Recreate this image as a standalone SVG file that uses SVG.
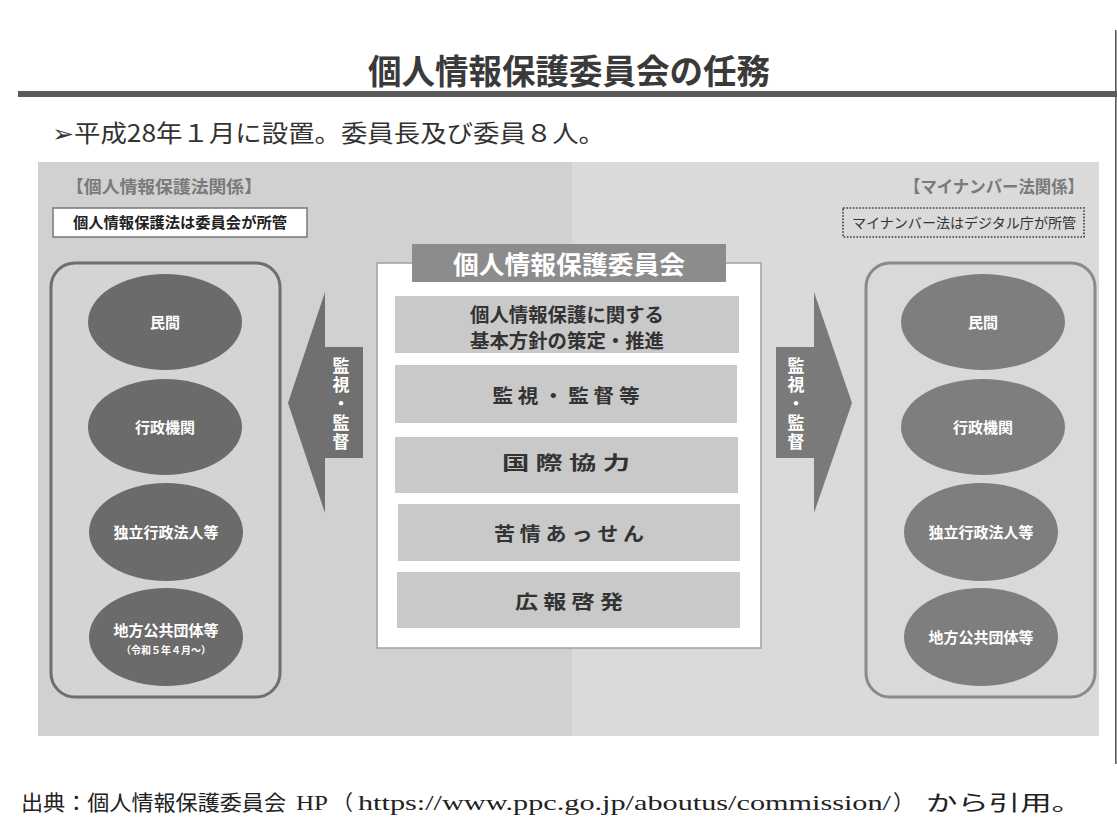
<svg xmlns="http://www.w3.org/2000/svg" width="1117" height="830" viewBox="0 0 1117 830">
<style>
.jp{font-family:"Noto Sans CJK JP","Noto Sans",sans-serif;}
.b{font-weight:bold;}
.ell-l{fill:#6b6b6b;}
.ell-r{fill:#7e7e7e;}
.et{fill:#ffffff;font-size:15px;font-weight:bold;text-anchor:middle;}
.box{fill:#c9c9c9;}
.bt{fill:#333333;font-size:19px;font-weight:bold;text-anchor:middle;}
.at{fill:#ffffff;font-size:17px;font-weight:bold;text-anchor:middle;writing-mode:vertical-rl;letter-spacing:2px;}
</style>
<rect width="1117" height="830" fill="#ffffff"/>
<g id="header">
<text class="jp b" x="569" y="84" font-size="34" fill="#3a3a3a" text-anchor="middle" textLength="402" lengthAdjust="spacingAndGlyphs">個人情報保護委員会の任務</text>
<rect x="18" y="91" width="1099" height="6" fill="#5a5a5a"/>
<rect x="1115" y="30" width="1.6" height="734" fill="#5a5a5a"/>
<text class="jp" x="52" y="142" font-size="24" fill="#333333" textLength="553" lengthAdjust="spacingAndGlyphs">➢平成28年１月に設置。委員長及び委員８人。</text>
</g>
<g id="panel">
<rect x="38" y="162" width="534" height="574" fill="#d1d1d1"/>
<rect x="572" y="162" width="527" height="574" fill="#d9dad9"/>
</g>
<g id="left-section">
<text class="jp b" x="66" y="193" font-size="17" fill="#7a7a7a" textLength="196" lengthAdjust="spacingAndGlyphs">【個人情報保護法関係】</text>
<rect x="53" y="208" width="254" height="29" fill="#ffffff" stroke="#777777" stroke-width="1.5"/>
<text class="jp b" x="180" y="228" font-size="15" fill="#222222" text-anchor="middle" textLength="214" lengthAdjust="spacingAndGlyphs">個人情報保護法は委員会が所管</text>
<rect x="51" y="263" width="229" height="434" rx="24" fill="#d4d4d4" stroke="#6e6e6e" stroke-width="3"/>
</g>
<g id="left-minkan"><ellipse class="ell-l" cx="165" cy="322" rx="77" ry="48"/><text class="jp et" x="165" y="328">民間</text></g>
<g id="left-gyosei"><ellipse class="ell-l" cx="165" cy="427" rx="77" ry="48"/><text class="jp et" x="165" y="433">行政機関</text></g>
<g id="left-dokuritsu"><ellipse class="ell-l" cx="166" cy="532" rx="77" ry="49"/><text class="jp et" x="166" y="538">独立行政法人等</text></g>
<g id="left-chiho"><ellipse class="ell-l" cx="166" cy="637" rx="77" ry="49"/><text class="jp et" x="166" y="636">地方公共団体等</text><text class="jp" x="166" y="654" font-size="10" font-weight="bold" fill="#ffffff" text-anchor="middle">（令和５年４月～）</text></g>
<g id="right-section">
<text class="jp b" x="1084" y="193" font-size="17" fill="#7a7a7a" text-anchor="end" textLength="180" lengthAdjust="spacingAndGlyphs">【マイナンバー法関係】</text>
<rect x="843" y="208" width="241" height="29" fill="none" stroke="#3a3a3a" stroke-width="1.6" stroke-dasharray="1.6 1.6"/>
<text class="jp" x="964" y="228" font-size="14" fill="#333333" text-anchor="middle" textLength="224" lengthAdjust="spacingAndGlyphs">マイナンバー法はデジタル庁が所管</text>
<rect x="866" y="263" width="229" height="434" rx="24" fill="#d9d9d9" stroke="#8a8a8a" stroke-width="3"/>
</g>
<g id="right-minkan"><ellipse class="ell-r" cx="983" cy="322" rx="82" ry="48"/><text class="jp et" x="983" y="328">民間</text></g>
<g id="right-gyosei"><ellipse class="ell-r" cx="983" cy="427" rx="82" ry="48"/><text class="jp et" x="983" y="433">行政機関</text></g>
<g id="right-dokuritsu"><ellipse class="ell-r" cx="981" cy="532" rx="77" ry="49"/><text class="jp et" x="981" y="538">独立行政法人等</text></g>
<g id="right-chiho"><ellipse class="ell-r" cx="981" cy="637" rx="77" ry="49"/><text class="jp et" x="981" y="643">地方公共団体等</text></g>
<g id="connectors">
<g id="arrow-left">
<polygon points="363,347 325,347 325,292 288,403 325,513 325,458 363,458" fill="#707070"/>
<text class="jp at" x="341" y="405">監視・監督</text>
</g>
<g id="arrow-right">
<polygon points="776,347 814,347 814,292 852,403 814,513 814,458 776,458" fill="#7a7a7a"/>
<text class="jp at" x="796" y="405">監視・監督</text>
</g>
</g>
<g id="commission">
<rect x="377" y="263" width="384" height="385" fill="#ffffff" stroke="#a0a0a0" stroke-width="1.5"/>
<rect x="412" y="244" width="314" height="38" fill="#8c8c8c"/>
<text class="jp b" x="569" y="274" font-size="25" fill="#ffffff" text-anchor="middle" textLength="232" lengthAdjust="spacingAndGlyphs">個人情報保護委員会</text>
</g>
<g id="task-policy"><rect class="box" x="395" y="296" width="344" height="57"/><text class="jp bt" x="567" y="322" textLength="194" lengthAdjust="spacingAndGlyphs">個人情報保護に関する</text><text class="jp bt" x="567" y="348" textLength="194" lengthAdjust="spacingAndGlyphs">基本方針の策定・推進</text></g>
<g id="task-supervision"><rect class="box" x="395" y="365" width="342" height="58"/><text class="jp bt" x="566" y="403" textLength="147" lengthAdjust="spacingAndGlyphs">監 視 ・ 監 督 等</text></g>
<g id="task-international"><rect class="box" x="395" y="437" width="343" height="56"/><text class="jp bt" x="566" y="470" textLength="128" lengthAdjust="spacingAndGlyphs">国 際 協 力</text></g>
<g id="task-complaint"><rect class="box" x="398" y="504" width="342" height="57"/><text class="jp bt" x="569" y="541" textLength="150" lengthAdjust="spacingAndGlyphs">苦 情 あ っ せ ん</text></g>
<g id="task-publicity"><rect class="box" x="397" y="572" width="343" height="56"/><text class="jp bt" x="569" y="609" textLength="108" lengthAdjust="spacingAndGlyphs">広 報 啓 発</text></g>
<g id="footer">
<text font-family="'Liberation Serif','Noto Sans CJK JP',serif" font-size="21" fill="#222222" y="810"><tspan x="21" textLength="265" lengthAdjust="spacingAndGlyphs">出典：個人情報保護委員会</tspan><tspan x="296" textLength="32" lengthAdjust="spacingAndGlyphs">HP</tspan><tspan x="332">（</tspan><tspan x="358" textLength="533" lengthAdjust="spacingAndGlyphs">https://www.ppc.go.jp/aboutus/commission/</tspan><tspan x="893">）</tspan><tspan x="926" textLength="157" lengthAdjust="spacingAndGlyphs">から引用。</tspan></text>
</g>
</svg>
